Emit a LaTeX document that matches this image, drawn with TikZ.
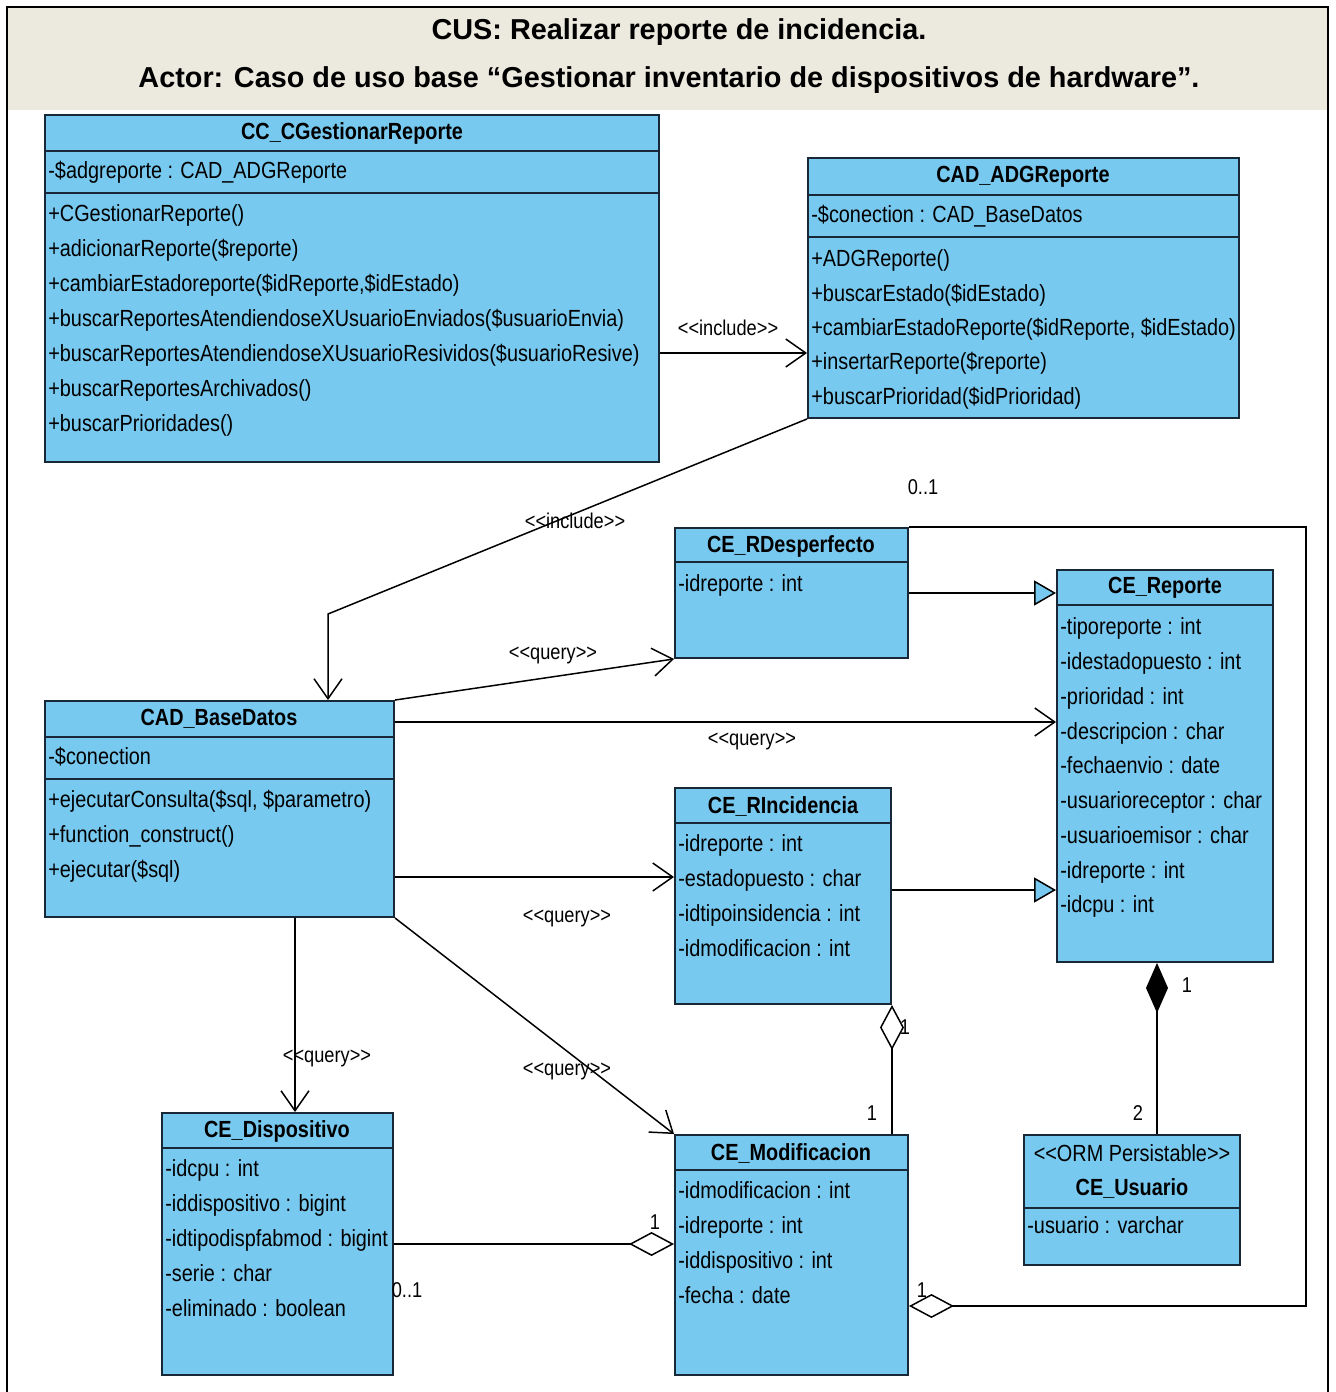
\documentclass[tikz,border=0pt]{standalone}
\usepackage{fontspec}
\setmainfont{Liberation Sans}
\newfontfamily\umlfamily[FakeStretch=0.85]{Liberation Sans}
\usetikzlibrary{arrows.meta, positioning, fit}

\definecolor{umlfill}{RGB}{120,201,240}
\definecolor{umlline}{RGB}{25,40,55}
\definecolor{headbg}{RGB}{236,233,223}

\newcommand\umltext{\umlfamily\fontsize{13.3}{16}\selectfont}
\newcommand\umlname{\umlfamily\bfseries\fontsize{13.3}{16}\selectfont}
\newcommand\umltag{\umlfamily\fontsize{12.2}{14}\selectfont}

% one node per class member, fixed line pitch
\newcommand\memberlist[5]{%
  \foreach \m [count=\k from 0] in {#5}
    \node[member] (#1\k) at (#2,{#3+#4*\k}) {\m};}

\begin{document}
\begin{tikzpicture}[x=0.02cm, y=-0.02cm,
    classbox/.style={draw=umlline, fill=umlfill, line width=1.1pt, inner sep=0pt},
    divider/.style={draw=umlline, line width=1.1pt},
    cname/.style={font=\umlname, inner sep=0pt},
    member/.style={font=\umltext, anchor=west, inner sep=0pt,
                   text height=1.8ex, text depth=0.3ex},
    tag/.style={font=\umltag, inner sep=1pt},
    dep/.style={line width=0.85pt, arrows={-Straight Barb[length=0.4cm,width=0.56cm]}},
    gen/.style={line width=0.85pt, arrows={-Triangle[fill=umlfill,length=0.44cm,width=0.5cm]}},
    agg/.style={line width=0.85pt, arrows={Diamond[fill=white,length=0.9cm,width=0.48cm]-}},
    comp/.style={line width=0.85pt, arrows={Diamond[fill=black,length=1.0cm,width=0.44cm]-}},
    head/.style={font=\bfseries\fontsize{16.4}{20}\selectfont, inner sep=0pt}]

  \useasboundingbox (0,0) rectangle (1335,1392);

  % header band and frame
  \fill[headbg] (7,7) rectangle (1328,110);
  \draw[line width=1.4pt] (7,1392) -- (7,7) -- (1328,7) -- (1328,1392);
  \node[head] (cus) at (679,32) {CUS: Realizar reporte de incidencia.};
  \node[head] (actor) at (669,80) {Actor: Caso de uso base “Gestionar inventario de dispositivos de hardware”.};

  % controller
  \node[classbox, fit={(45,115) (659,462)}] (cc) {};
  \draw[divider] (45,151) -- (659,151) (45,193) -- (659,193);
  \node[cname] (cc-n) at (352,133) {CC\_CGestionarReporte};
  \memberlist{cc-a}{48}{172}{35}{{-\$adgreporte : CAD\_ADGReporte}}
  \memberlist{cc-o}{48}{215}{35}{{+CGestionarReporte()},{+adicionarReporte(\$reporte)},
    {+cambiarEstadoreporte(\$idReporte,\$idEstado)},
    {+buscarReportesAtendiendoseXUsuarioEnviados(\$usuarioEnvia)},
    {+buscarReportesAtendiendoseXUsuarioResividos(\$usuarioResive)},
    {+buscarReportesArchivados()},{+buscarPrioridades()}}

  % data access
  \node[classbox, fit={(808,158) (1239,418)}] (adg) {};
  \draw[divider] (808,195) -- (1239,195) (808,237) -- (1239,237);
  \node[cname] (adg-n) at (1023,177) {CAD\_ADGReporte};
  \memberlist{adg-a}{811}{216}{35}{{-\$conection : CAD\_BaseDatos}}
  \memberlist{adg-o}{811}{260}{34.3}{{+ADGReporte()},{+buscarEstado(\$idEstado)},
    {+cambiarEstadoReporte(\$idReporte, \$idEstado)},
    {+insertarReporte(\$reporte)},{+buscarPrioridad(\$idPrioridad)}}

  \node[classbox, fit={(45,701) (394,917)}] (bd) {};
  \draw[divider] (45,737) -- (394,737) (45,779) -- (394,779);
  \node[cname] (bd-n) at (219,719) {CAD\_BaseDatos};
  \memberlist{bd-a}{48}{758}{35}{{-\$conection}}
  \memberlist{bd-o}{48}{801}{35}{{+ejecutarConsulta(\$sql, \$parametro)},
    {+function\_construct()},{+ejecutar(\$sql)}}

  % entities
  \node[classbox, fit={(675,528) (908,658)}] (rd) {};
  \draw[divider] (675,562) -- (908,562);
  \node[cname] (rd-n) at (791,546) {CE\_RDesperfecto};
  \memberlist{rd-a}{678}{585}{35}{{-idreporte : int}}

  \node[classbox, fit={(1057,570) (1273,962)}] (rep) {};
  \draw[divider] (1057,605) -- (1273,605);
  \node[cname] (rep-n) at (1165,588) {CE\_Reporte};
  \memberlist{rep-a}{1060}{628}{34.75}{{-tiporeporte : int},{-idestadopuesto : int},
    {-prioridad : int},{-descripcion : char},{-fechaenvio : date},
    {-usuarioreceptor : char},{-usuarioemisor : char},{-idreporte : int},{-idcpu : int}}

  \node[classbox, fit={(675,788) (891,1004)}] (ri) {};
  \draw[divider] (675,823) -- (891,823);
  \node[cname] (ri-n) at (783,806) {CE\_RIncidencia};
  \memberlist{ri-a}{678}{845}{34.7}{{-idreporte : int},{-estadopuesto : char},
    {-idtipoinsidencia : int},{-idmodificacion : int}}

  \node[classbox, fit={(162,1113) (393,1375)}] (disp) {};
  \draw[divider] (162,1148) -- (393,1148);
  \node[cname] (disp-n) at (277,1131) {CE\_Dispositivo};
  \memberlist{disp-a}{165}{1170}{35}{{-idcpu : int},{-iddispositivo : bigint},
    {-idtipodispfabmod : bigint},{-serie : char},{-eliminado : boolean}}

  \node[classbox, fit={(675,1135) (908,1375)}] (mo) {};
  \draw[divider] (675,1170) -- (908,1170);
  \node[cname] (mo-n) at (791,1153) {CE\_Modificacion};
  \memberlist{mo-a}{678}{1192}{35}{{-idmodificacion : int},{-idreporte : int},
    {-iddispositivo : int},{-fecha : date}}

  \node[classbox, fit={(1024,1135) (1240,1265)}] (us) {};
  \draw[divider] (1024,1208) -- (1240,1208);
  \node[font=\umltext, inner sep=0pt] (us-s) at (1132,1153) {<<ORM Persistable>>};
  \node[cname] (us-n) at (1132,1188) {CE\_Usuario};
  \memberlist{us-a}{1027}{1227}{35}{{-usuario : varchar}}

  % connectors
  \coordinate (inc) at (0,353);
  \coordinate (bend) at (328,614);
  \coordinate (q-rep) at (0,722);
  \coordinate (q-ri) at (0,877);
  \coordinate (q-disp) at (295,0);
  \coordinate (g-rd) at (0,593);
  \coordinate (g-ri) at (0,890);
  \coordinate (c-us) at (1157,0);
  \coordinate (a-disp) at (0,1244);
  \coordinate (a-rd) at (0,1306);
  \coordinate (loop) at (1306,0);

  \draw[dep] (cc.east |- inc) -- (adg.west |- inc);
  \draw[dep] (adg.south west) -- (bend) -- (bend |- bd.north);
  \draw[dep] (bd.north east) -- (rd.south west);
  \draw[dep] (bd.east |- q-rep) -- (rep.west |- q-rep);
  \draw[dep] (bd.east |- q-ri) -- (ri.west |- q-ri);
  \draw[dep] (bd.south -| q-disp) -- (disp.north -| q-disp);
  \draw[dep] (bd.south east) -- (mo.north west);
  \draw[gen] (rd.east |- g-rd) -- (rep.west |- g-rd);
  \draw[gen] (ri.east |- g-ri) -- (rep.west |- g-ri);
  \draw[comp] (rep.south -| c-us) -- (us.north -| c-us);
  \draw[agg] (ri.south east) -- (ri.south east |- mo.north);
  \draw[agg] (mo.west |- a-disp) -- (disp.east |- a-disp);
  \draw[agg] (mo.east |- a-rd) -- (loop |- a-rd) -- (loop |- rd.north) -- (rd.north east);

  % stereotypes and multiplicities
  \node[tag] (t-inc1) at (728,328) {<<include>>};
  \node[tag] (t-inc2) at (575,521) {<<include>>};
  \node[tag] (t-q1) at (553,655) {<<query>>};
  \node[tag] (t-q2) at (752,741) {<<query>>};
  \node[tag] (t-q3) at (567,918) {<<query>>};
  \node[tag] (t-q4) at (327,1058) {<<query>>};
  \node[tag] (t-q5) at (567,1071) {<<query>>};
  \node[tag] (m-rd) at (923,487) {0..1};
  \node[tag] (m-rep) at (1187,985) {1};
  \node[tag] (m-us) at (1138,1113) {2};
  \node[tag] (m-ri) at (905,1027) {1};
  \node[tag] (m-mo1) at (872,1113) {1};
  \node[tag] (m-mo2) at (655,1222) {1};
  \node[tag] (m-disp) at (407,1290) {0..1};
  \node[tag] (m-mo3) at (922,1290) {1};
\end{tikzpicture}
\end{document}
